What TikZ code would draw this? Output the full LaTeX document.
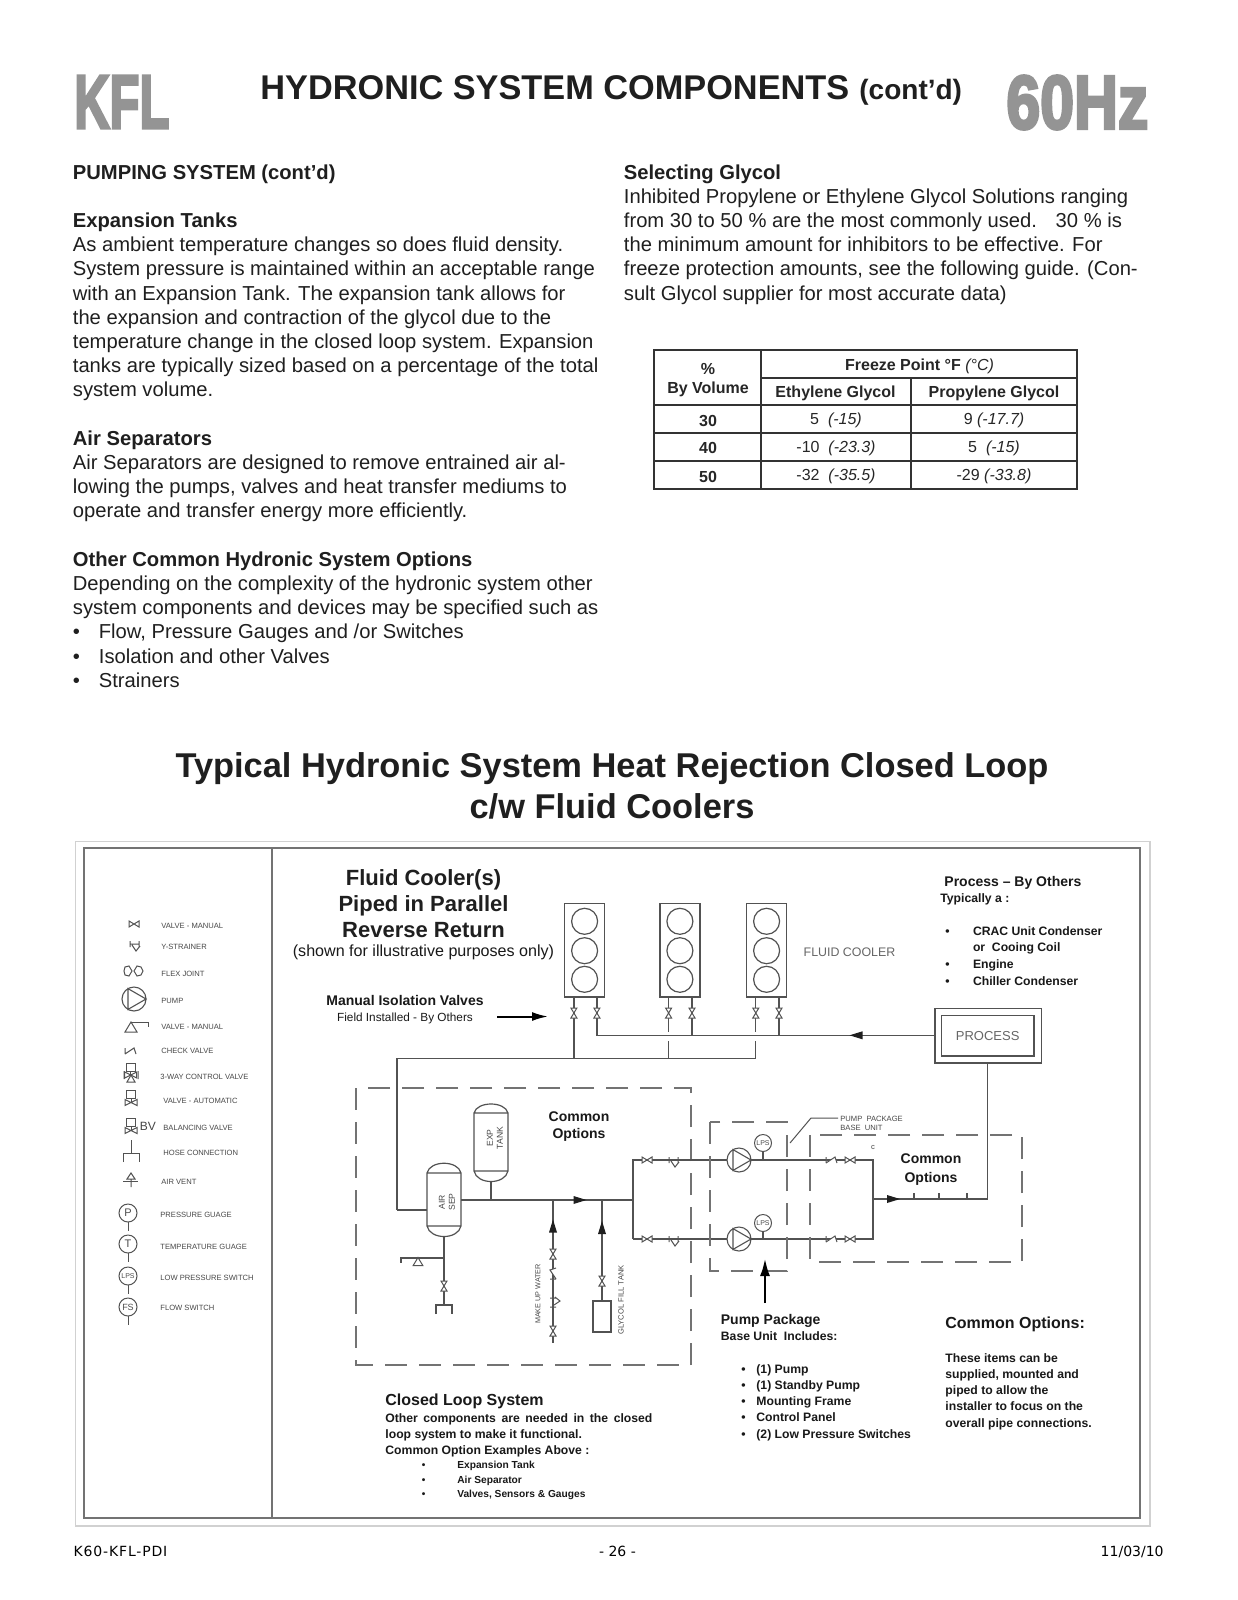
\documentclass[tikz,border=0pt]{standalone}
\usepackage{fontspec}
\usepackage{graphicx}
\setmainfont{Liberation Sans}
\newfontfamily\footfont{DejaVu Sans}
\newfontfamily\heavyfont[BoldFeatures={FakeBold=4}]{Liberation Sans}
\usetikzlibrary{arrows.meta, calc, positioning}

\tikzset{
  pipe/.style={draw=black!68, line width=.6pt},
  framebox/.style={draw=black!55, line width=1pt},
  dashbox/.style={draw=black!55, line width=.75pt, dash pattern=on 11pt off 6pt},
  flowarrow/.style={draw=black, line width=1pt, -{Latex[length=8pt,width=4.5pt]}},
  bodytext/.style={anchor=north west, inner sep=0, align=left, text=black!88, font=\fontsize{10.1}{12.1}\selectfont},
  headtext/.style={inner sep=0, align=center, text=black!88, font=\bfseries\fontsize{17.15}{20.4}\selectfont},
  logotext/.style={anchor=west, inner sep=0, text=black!42},
  notehead/.style={inner sep=0, align=left, text=black!90, font=\bfseries\fontsize{7}{8.6}\selectfont},
  notetext/.style={anchor=north west, inner sep=0, align=left, text=black!90, font=\bfseries\fontsize{6.1}{8.1}\selectfont},
  tabletext/.style={inner sep=0, text=black!85, font=\fontsize{8}{9}\selectfont},
  drawntext/.style={inner sep=0, align=left, text=black!72, font=\fontsize{3.8}{4.6}\selectfont},
  legendtext/.style={drawntext, anchor=west},
  cooler/.style={draw=black!68, line width=.6pt, minimum width=20pt, minimum height=46.6pt, inner sep=0},
  gauge/.style={circle, draw=black!68, line width=.5pt, fill=white, minimum size=17pt, inner sep=0, text=black!70, font=\fontsize{5.5}{6}\selectfont},
  % piping symbols
  bowtie/.pic={\draw[pipe, line width=.5pt, fill=white] (-5,-3) -- (5,3) -- (5,-3) -- (-5,3) -- cycle;},
  checkvalve/.pic={\draw[pipe, line width=.5pt, fill=white] (-6,-3) -- (-6,3) (-6,3) -- (3,-3) -- (5,3);},
  strainer/.pic={\draw[pipe, line width=.5pt] (-5,-3) -- (-5,3) (-5,0) -- (4,0) (4,-3) -- (4,3) (-3,1) -- (1,7) -- (5,2);},
  flowtip/.pic={\fill[black!88] (-6.5,-4) -- (6.5,0) -- (-6.5,4) -- cycle;},
  pumpmark/.pic={\draw[pipe, line width=.55pt, fill=white] (0,0) circle (12); \draw[pipe, line width=.55pt] (-6,-10.4) -- (12,0) -- (-6,10.4) -- cycle;},
  wedgevalve/.pic={\draw[pipe, line width=.5pt, fill=white] (-6,5) -- (0,-5) -- (6,5) -- cycle;},
  autovalve/.pic={\draw[pipe, line width=.5pt] (-4.5,-12) rectangle (4.5,-4) (0,-4) -- (0,0); \draw[pipe, line width=.5pt] (-6,3) -- (6,-3) -- (6,3) -- (-6,-3) -- cycle;}
}

\begin{document}
\begin{tikzpicture}[x=.5pt, y=-.5pt]
  \useasboundingbox (0,0) rectangle (1237,1600);
  \fill[white] (0,0) rectangle (1237,1600);

  % Page heading
  \node[logotext, inner sep=0] (kfl) at (74,102) {\resizebox{47.5pt}{26pt}{\heavyfont\bfseries KFL}};
  \node[logotext, inner sep=0] (hertz) at (1006,102.5) {\resizebox{71pt}{26.5pt}{\heavyfont\bfseries 60Hz}};
  \node[headtext, anchor=base west] (title) at (260,100) {HYDRONIC SYSTEM COMPONENTS};
  \node[headtext, anchor=base west, font=\bfseries\fontsize{14}{16}\selectfont] (titletail) at (859,100) {(cont’d)};

  % Left column
  \node[bodytext] (leftcol) at (72.5,164) {\textbf{PUMPING SYSTEM (cont’d)}\\
    \mbox{}\\
    \textbf{Expansion Tanks}\\
    As ambient temperature changes so does fluid density.\\
    System pressure is maintained within an acceptable range\\
    with an Expansion Tank.  The expansion tank allows for\\
    the expansion and contraction of the glycol due to the\\
    temperature change in the closed loop system. Expansion\\
    tanks are typically sized based on a percentage of the total\\
    system volume.\\
    \mbox{}\\
    \textbf{Air Separators}\\
    Air Separators are designed to remove entrained air al-\\
    lowing the pumps, valves and heat transfer mediums to\\
    operate and transfer energy more efficiently.\\
    \mbox{}\\
    \textbf{Other Common Hydronic System Options}\\
    Depending on the complexity of the hydronic system other\\
    system components and devices may be specified such as\\
    \makebox[13pt][l]{•}Flow, Pressure Gauges and /or Switches\\
    \makebox[13pt][l]{•}Isolation and other Valves\\
    \makebox[13pt][l]{•}Strainers};

  % Right column
  \node[bodytext] (rightcol) at (623.5,164) {\textbf{Selecting Glycol}\\
    Inhibited Propylene or Ethylene Glycol Solutions ranging\\
    from 30 to 50 \% are the most commonly used.~~ 30 \% is\\
    the minimum amount for inhibitors to be effective.  For\\
    freeze protection amounts, see the following guide. (Con-\\
    sult Glycol supplier for most accurate data)};

  % Freeze point table
  \draw[black!80, line width=.8pt] (654,350) rectangle (1077,489);
  \draw[black!80, line width=.8pt] (760.7,350) -- (760.7,489) (910.7,377.7) -- (910.7,489);
  \draw[black!80, line width=.8pt] (760.7,377.7) -- (1077,377.7) (654,405) -- (1077,405);
  \draw[black!80, line width=.8pt] (654,433) -- (1077,433) (654,461) -- (1077,461);
  \node[tabletext, align=center, font=\bfseries\fontsize{8}{9.6}\selectfont] (percent) at (708,380) {\%\\By Volume};
  \node[tabletext] (freeze) at (919.5,366) {\textbf{Freeze Point °F} \textit{(°C)}};
  \node[tabletext] (ethyl) at (835.5,393.5) {\textbf{Ethylene Glycol}};
  \node[tabletext] (propyl) at (994,393.5) {\textbf{Propylene Glycol}};
  \foreach \pct/\ypos/\ethval/\proval in {30/420.5/{5~~\textit{(-15)}}/{9 \textit{(-17.7)}},
                                          40/448/{-10~~\textit{(-23.3)}}/{5~~\textit{(-15)}},
                                          50/476.5/{-32~~\textit{(-35.5)}}/{-29 \textit{(-33.8)}}} {
    \node[tabletext] (pct\pct) at (708,\ypos) {\textbf{\pct}};
    \node[tabletext] (eth\pct) at (836,\ypos) {\ethval};
    \node[tabletext] (pro\pct) at (994,\ypos) {\proval};
  }

  % Diagram heading
  \node[headtext, font=\bfseries\fontsize{17.2}{20.4}\selectfont] (looptitle) at (612,786) {Typical Hydronic System Heat Rejection Closed Loop\\c/w Fluid Coolers};

  % Diagram frame
  \draw[black!18, line width=.7pt] (75.3,841.7) rectangle (1150,1526);
  \draw[framebox] (83.7,848) rectangle (1140,1517.7);
  \draw[framebox] (271.7,848) -- (271.7,1517.7);

  % Legend
  \foreach \ypos/\xpos/\txt [count=\i] in {926/161/VALVE - MANUAL, 947/161/Y-STRAINER, 974/161/FLEX JOINT, 1001/161/PUMP,
      1027/161/VALVE - MANUAL, 1051/161/CHECK VALVE, 1077/160/3-WAY CONTROL VALVE, 1101/163/VALVE - AUTOMATIC,
      1128/163/BALANCING VALVE, 1153/163/HOSE CONNECTION, 1182/161/AIR VENT, 1215/160/PRESSURE GUAGE,
      1247/160/TEMPERATURE GUAGE, 1278/160/LOW PRESSURE SWITCH, 1308/160/FLOW SWITCH} {
    \node[legendtext] (legend\i) at (\xpos,\ypos) {\txt};
  }
  \pic at (134,924) {bowtie};
  \pic at (135,944) {strainer};
  \draw[pipe, line width=.5pt] (132,971) -- (129,966) -- (125,967) -- (124,971) -- (125,975) -- (129,976) -- cycle
    (134,971) -- (137,966) -- (141,967) -- (143,971) -- (141,975) -- (137,976) -- cycle;
  \pic at (134,999) {pumpmark};
  \pic at (131,1027) {wedgevalve};
  \draw[pipe, line width=.5pt] (131,1022) -- (148,1022) -- (148,1027);
  \pic at (131,1051) {checkvalve};
  \pic at (130.7,1075) {autovalve};
  \draw[pipe, line width=.5pt] (124,1071) -- (124,1079) (138,1071) -- (138,1079) (127,1082) -- (131,1075) -- (135,1082) -- cycle;
  \pic at (131,1102.5) {autovalve};
  \pic at (131,1130.5) {autovalve};
  \node[drawntext, anchor=west, font=\fontsize{6}{7}\selectfont] (bvmark) at (139.5,1126) {BV};
  \draw[pipe, line width=.5pt] (131,1140) -- (131,1153) (123,1162) -- (123,1153) -- (139,1153) -- (139,1162);
  \draw[pipe, line width=.5pt] (131,1173) -- (127,1179) -- (135,1179) -- cycle (131,1179) -- (131,1187);
  \draw[pipe, line width=.9pt] (123,1181.5) -- (138,1181.5);
  \foreach \ypos/\txt/\size in {1213/P/5.5, 1244/T/5.5, 1276/LPS/3.5, 1307/FS/4.5} {
    \draw[pipe, line width=.5pt] (128,\ypos) -- +(0,18);
    \node[gauge, minimum size=9pt, font=\fontsize{\size}{6}\selectfont] (mark\txt) at (128,\ypos) {\txt};
  }

  % Fluid coolers
  \foreach \xpos/\name in {584.6/coolerA, 679.9/coolerB, 766.6/coolerC} {
    \node[cooler] (\name) at (\xpos,950.4) {};
    \draw[pipe] (\xpos,921.3) circle (13) (\xpos,950.7) circle (13) (\xpos,979.3) circle (13);
  }
  \node[drawntext, text=black!60, font=\fontsize{6.2}{7}\selectfont] (coolertext) at (849.5,952.7) {FLUID COOLER};

  % Process box
  \node[draw=black!68, line width=.7pt, minimum width=53.2pt, minimum height=27.2pt, inner sep=0] (process) at (988.2,1035.8) {};
  \node[draw=black!68, line width=.7pt, minimum width=46.3pt, minimum height=20.4pt, inner sep=0, text=black!60, font=\fontsize{6.5}{7}\selectfont] (processin) at (987.7,1035.7) {PROCESS};

  % Cooler piping
  \coordinate (returnA) at (573.9,1058.3);
  \coordinate (returnB) at (668.6,1058.3);
  \coordinate (returnC) at (755.8,1058.3);
  \coordinate (supplyA) at (596.9,1035.3);
  \coordinate (supplyB) at (692,1035.3);
  \coordinate (supplyC) at (779,1035.3);
  \coordinate (returnL) at (397,1058.3);
  \coordinate (returnD) at (397,1210);
  \coordinate (processR) at (process.west |- supplyA);
  \draw[pipe] (coolerA.south -| returnA) -- (returnA);
  \draw[pipe] (coolerB.south -| returnB) -- (668.6,1031.7) (668.6,1041) -- (returnB);
  \draw[pipe] (coolerC.south -| returnC) -- (755.8,1031.7) (755.8,1041) -- (returnC);
  \draw[pipe] (coolerA.south -| supplyA) -- (supplyA) -- (processR);
  \draw[pipe] (coolerB.south -| supplyB) -- (supplyB);
  \draw[pipe] (coolerC.south -| supplyC) -- (supplyC);
  \draw[pipe] (returnC) -- (returnL) -- (returnD);
  \foreach \xpos in {573.9, 596.9, 668.6, 692, 755.8, 779} {
    \pic[rotate=90] at (\xpos,1013) {bowtie};
  }
  \pic[rotate=180] at (856,1035.3) {flowtip};

  % Closed loop box
  \draw[dashbox] (356,1088) rectangle (691,1365);
  % Air separator
  \draw[pipe, fill=white] (427,1226) -- (427,1173) .. controls (430,1160) and (458,1160) .. (461,1173) -- (461,1226) .. controls (458,1240) and (430,1240) .. (427,1226) -- cycle (427,1173) -- (461,1173) (427,1226) -- (461,1226);
  \node[drawntext, rotate=90, align=center, font=\fontsize{4.3}{5}\selectfont] (airsep) at (447,1202) {AIR\\SEP};
  % Expansion tank
  \draw[pipe, fill=white] (474,1171) -- (474,1113) .. controls (477,1101) and (505,1101) .. (508,1113) -- (508,1171) .. controls (505,1185) and (477,1185) .. (474,1171) -- cycle (474,1113) -- (508,1113) (474,1171) -- (508,1171);
  \node[drawntext, rotate=90, align=center, font=\fontsize{4.3}{5}\selectfont] (exptank) at (495,1138) {EXP\\TANK};

  % Main header and branches
  \coordinate (sepin) at (427,1210);
  \coordinate (sepout) at (461,1200);
  \coordinate (header) at (633,1200);
  \coordinate (branchU) at (633,1160);
  \coordinate (branchL) at (633,1239);
  \coordinate (pumpU) at (739,1160);
  \coordinate (pumpL) at (739,1239);
  \coordinate (collect) at (873,1199);
  \coordinate (collectU) at (873,1160);
  \coordinate (collectL) at (873,1239);
  \coordinate (outlet) at (987.7,1199);
  \draw[pipe] (returnD) -- (sepin);
  \draw[pipe] (sepout) -- (header);
  \draw[pipe] (491,1181) -- (491,1200);
  \draw[pipe] (branchL) -- (branchU) -- (pumpU) -- (collectU) -- (collectL) -- (pumpL) -- (branchL);
  \draw[pipe] (collect) -- (outlet) -- (process.south -| outlet);
  \foreach \ypos in {1160, 1239} {
    \pic at (647,\ypos) {bowtie};
    \pic at (674,\ypos) {strainer};
    \pic at (832,\ypos) {checkvalve};
    \pic at (850,\ypos) {bowtie};
    \pic at (739,\ypos) {pumpmark};
  }
  \pic at (580,1200) {flowtip};
  \pic at (893.5,1199) {flowtip};
  \foreach \xpos in {914, 939, 967} {
    \draw[pipe] (\xpos,1199) -- (\xpos,1193);
  }
  \foreach \ypos/\name in {1143/lpsU, 1223/lpsL} {
    \draw[pipe] (763,\ypos) -- (763,\ypos+16);
    \node[gauge, minimum size=8.5pt, font=\fontsize{3.5}{4}\selectfont] (\name) at (763,\ypos) {LPS};
  }

  % Drain and hose
  \coordinate (drainT) at (444,1236);
  \coordinate (drainB) at (444,1305);
  \coordinate (ventL) at (401,1258);
  \draw[pipe] (drainT) -- (drainB);
  \draw[pipe] (436,1314) -- (436,1305) -- (452,1305) -- (452,1314);
  \draw[pipe] (444,1258) -- (ventL) -- (401,1263);
  \pic[scale=.8] at (418,1261.5) {wedgevalve};
  \pic[rotate=90] at (444,1286) {bowtie};

  % Make up water and glycol fill
  \coordinate (makeT) at (553,1200);
  \coordinate (makeB) at (553,1343);
  \coordinate (fillT) at (602,1200);
  \draw[pipe] (makeT) -- (makeB);
  \pic[rotate=90] at (553,1226) {flowtip};
  \pic[rotate=90] at (553,1254) {bowtie};
  \pic[rotate=90] at (553,1273) {checkvalve};
  \pic[rotate=90] at (553,1302) {strainer};
  \pic[rotate=90] at (553,1331) {bowtie};
  \node[draw=black!68, line width=.6pt, minimum width=9pt, minimum height=15.5pt, inner sep=0] (filltank) at (602,1316.5) {};
  \draw[pipe] (fillT) -- (filltank.north);
  \pic[rotate=90] at (602,1227.5) {flowtip};
  \pic[rotate=90] at (602,1281) {bowtie};
  \node[drawntext, rotate=90, font=\fontsize{3.6}{4.6}\selectfont] (makeup) at (538,1294) {MAKE UP WATER};
  \node[drawntext, rotate=90] (glycolfill) at (621,1300) {GLYCOL FILL TANK};

  % Pump package and common options boxes
  \draw[dashbox] (710,1122) rectangle (787,1271);
  \draw[dashbox] (810,1135) rectangle (1022,1262);
  \coordinate (leadA) at (790,1143);
  \coordinate (leadB) at (811,1118);
  \coordinate (leadC) at (838,1118);
  \draw[pipe, line width=.5pt] (leadA) -- (leadB) -- (leadC);
  \node[drawntext, anchor=west] (pumpbase) at (840,1123.5) {PUMP~~PACKAGE\\BASE~~UNIT};
  \node[drawntext] (smallc) at (873,1147) {c};

  % Callouts
  \coordinate (valveA) at (497,1016.5);
  \coordinate (valveB) at (548,1016.5);
  \coordinate (pumpA) at (765,1303);
  \coordinate (pumpB) at (765,1258);
  \draw[flowarrow] (valveA) -- (valveB);
  \draw[flowarrow, line width=1.4pt, -{Latex[length=9pt,width=5pt]}] (pumpA) -- (pumpB);

  % Diagram notes
  \node[headtext, font=\bfseries\fontsize{11}{13.1}\selectfont] (piped) at (423.5,903.5) {Fluid Cooler(s)\\Piped in Parallel\\Reverse Return};
  \node[inner sep=0, text=black!90, font=\fontsize{8.05}{9}\selectfont] (illustr) at (423.5,952) {(shown for illustrative purposes only)};
  \node[notehead] (manualiso) at (405,1000) {Manual Isolation Valves};
  \node[inner sep=0, text=black!90, font=\fontsize{5.9}{7}\selectfont] (fieldinst) at (405,1018) {Field Installed - By Others};
  \node[notehead, align=center] (commonA) at (579,1126.5) {Common\\Options};
  \node[notehead, align=center, font=\bfseries\fontsize{7}{9.3}\selectfont] (commonB) at (931,1169.5) {Common\\Options};
  \node[notehead, anchor=west] (processby) at (944,883) {Process – By Others};
  \node[notetext, anchor=west] (typically) at (940,899) {Typically a :};
  \node[notetext, font=\bfseries\fontsize{6.1}{8.35}\selectfont] (processlist) at (945,926) {\makebox[13.8pt][l]{•}CRAC Unit Condenser\\
    \hspace*{13.8pt}or~~Cooing Coil\\
    \makebox[13.8pt][l]{•}Engine\\
    \makebox[13.8pt][l]{•}Chiller Condenser};
  \node[notehead, anchor=west] (pumphead) at (720.5,1320.6) {Pump Package};
  \node[notetext, anchor=west] (pumpsub) at (720.5,1336) {Base Unit~~Includes:};
  \node[notetext] (pumplist) at (741,1364) {\makebox[7.5pt][l]{•}(1) Pump\\
    \makebox[7.5pt][l]{•}(1) Standby Pump\\
    \makebox[7.5pt][l]{•}Mounting Frame\\
    \makebox[7.5pt][l]{•}Control Panel\\
    \makebox[7.5pt][l]{•}(2) Low Pressure Switches};
  \node[notehead, anchor=west, font=\bfseries\fontsize{8}{9}\selectfont] (commonhead) at (945,1324.7) {Common Options:};
  \node[notetext] (commonnote) at (945,1353) {These items can be\\
    supplied, mounted and\\
    piped to allow the\\
    installer to focus on the\\
    overall pipe connections.};
  \node[notehead, anchor=west, font=\bfseries\fontsize{8}{9}\selectfont] (closedhead) at (385,1401) {Closed Loop System};
  \node[notetext] (closednote) at (385,1413) {\makebox[133.5pt][s]{Other components are needed in the closed}\\
    loop system to make it functional.\\
    Common Option Examples Above :};
  \node[notetext, font=\bfseries\fontsize{5.1}{7.1}\selectfont] (closedlist) at (421.5,1461) {\makebox[17.7pt][l]{•}Expansion Tank\\
    \makebox[17.7pt][l]{•}Air Separator\\
    \makebox[17.7pt][l]{•}Valves, Sensors \& Gauges};

  % Footer
  \node[inner sep=0, anchor=base west, font=\footfont\addfontfeature{LetterSpace=6}\fontsize{7}{8}\selectfont] (footA) at (73.3,1556) {K60-KFL-PDI};
  \node[inner sep=0, anchor=base, font=\footfont\fontsize{7}{8}\selectfont] (footB) at (617.5,1556) {- 26 -};
  \node[inner sep=0, anchor=base east, font=\footfont\fontsize{7}{8}\selectfont] (footC) at (1164,1556) {11/03/10};
\end{tikzpicture}
\end{document}
